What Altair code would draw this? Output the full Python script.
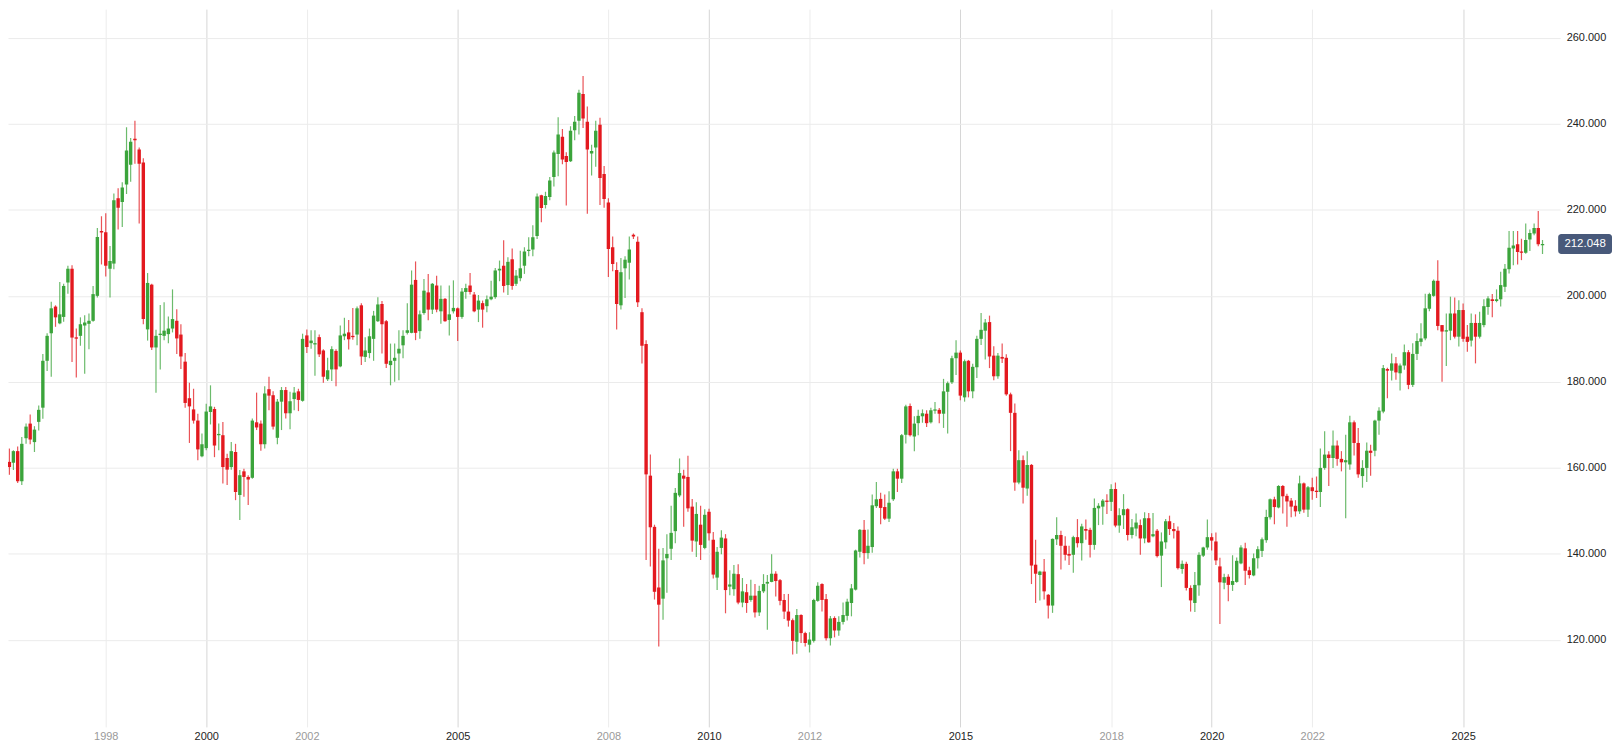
import altair as alt
import numpy as np
import pandas as pd

# Monthly candles, Jan 1996 .. Aug 2026
open_ = [
    160.2,161.4,161.2,163.9,156.9,166.9,170.3,166.0,170.7,174.0,184.9,191.3,
    197.5,193.6,195.1,203.1,206.3,190.3,190.7,193.1,193.5,194.2,200.0,215.1,
    214.8,206.3,207.5,222.7,221.8,225.9,230.5,236.5,234.0,231.0,192.2,202.6,
    188.0,190.9,190.7,191.1,192.4,194.2,191.0,184.7,176.2,173.6,171.0,162.7,
    164.6,173.0,173.7,167.6,167.6,162.3,160.2,163.7,153.7,159.2,157.9,157.7,
    170.6,170.3,165.5,178.3,176.9,167.0,175.4,178.1,172.7,176.0,177.8,175.6,
    190.8,189.0,188.7,190.4,187.3,180.6,182.9,187.2,183.6,190.6,191.5,190.7,
    191.0,197.8,185.8,186.7,190.0,194.1,198.1,194.1,183.9,184.9,186.6,188.5,
    191.4,191.4,203.7,191.8,196.0,200.8,196.8,202.4,196.4,199.3,194.4,196.4,
    197.1,195.1,200.9,202.4,200.3,196.8,198.3,197.6,199.2,199.7,205.9,207.0,
    202.5,208.5,202.8,204.1,207.0,210.4,210.8,213.9,223.4,221.1,223.0,227.6,
    233.0,237.0,232.5,231.3,238.5,240.7,246.9,240.5,233.1,234.5,239.8,228.3,
    221.7,211.3,206.0,197.8,206.4,207.7,214.2,212.6,196.2,188.8,158.2,146.3,
    132.2,129.6,139.0,141.2,145.3,153.6,158.2,157.9,151.0,142.9,146.8,141.4,
    149.8,143.3,134.5,141.4,143.6,132.4,131.8,135.3,128.7,131.1,129.3,130.3,
    126.4,131.3,133.1,133.5,135.4,133.9,129.3,126.6,124.6,119.6,125.8,121.6,
    118.9,119.8,129.1,133.0,129.5,120.4,125.1,122.2,124.2,125.6,128.6,131.7,
    140.5,145.6,140.2,141.6,151.1,152.8,150.9,148.2,152.7,159.2,157.5,167.7,
    174.4,167.3,170.4,172.0,172.6,170.6,173.4,173.5,172.6,177.7,179.9,185.5,
    186.8,176.4,184.9,177.8,183.4,190.0,191.9,193.9,186.1,181.3,185.8,185.6,
    177.1,172.8,156.6,161.8,155.2,160.7,137.5,135.1,135.9,130.5,128.0,143.4,
    144.4,141.9,140.0,139.8,143.9,142.5,145.8,145.6,142.1,150.6,151.0,152.4,
    152.1,155.1,146.6,149.0,150.4,144.4,145.9,146.7,143.6,148.3,144.1,145.4,
    139.6,142.7,147.6,145.8,145.4,136.5,137.7,132.1,128.6,132.7,139.6,141.5,
    143.9,142.9,137.1,133.3,134.7,132.8,133.5,137.8,141.3,136.2,135.0,139.0,
    140.7,143.2,148.5,152.7,150.8,155.8,153.5,152.4,151.2,149.9,156.4,150.3,
    155.5,154.7,154.4,160.0,163.1,162.3,165.2,162.1,161.3,160.8,170.6,165.8,
    158.1,160.0,164.0,164.0,171.0,173.1,183.0,182.6,184.3,182.0,183.8,186.9,
    179.3,186.5,189.3,190.1,197.0,200.0,203.5,193.2,191.7,191.9,195.9,190.5,
    196.7,190.5,189.6,193.7,190.5,193.2,197.4,199.2,198.8,199.2,202.1,206.2,
    211.0,212.0,210.3,210.0,213.1,214.5,215.8,211.8,
]
high = [
    164.0,164.5,164.1,165.0,167.2,170.3,172.4,169.7,174.5,186.5,191.3,198.6,
    197.8,203.2,202.8,207.0,207.1,192.4,195.0,195.5,195.9,202.3,215.8,218.5,
    219.2,211.6,223.8,225.0,226.4,239.2,236.7,240.7,234.5,232.0,205.3,202.8,
    192.1,197.9,198.5,195.2,201.5,196.9,193.4,186.7,179.8,178.4,172.6,168.0,
    174.9,179.2,174.2,170.3,170.7,163.3,166.0,165.6,159.5,159.8,158.3,171.5,
    177.5,171.0,179.0,181.2,177.8,176.0,178.8,178.8,177.7,178.8,178.4,191.2,
    192.2,192.0,192.0,191.0,187.6,185.6,188.3,187.6,193.1,194.9,194.4,197.2,
    197.5,198.3,190.4,192.4,196.5,199.7,198.8,194.4,188.9,188.9,192.0,192.0,
    198.3,205.9,208.0,196.6,203.9,205.1,203.0,204.7,202.4,199.5,202.4,203.6,
    197.3,201.8,202.8,205.3,200.9,200.2,198.9,200.1,203.5,206.5,208.2,212.9,
    209.0,211.0,206.0,210.5,211.3,213.6,216.4,223.8,223.5,224.2,227.6,233.8,
    241.5,238.8,233.4,239.4,241.8,247.9,251.1,244.0,235.1,240.7,241.4,230.2,
    222.7,213.8,207.8,208.8,209.2,213.8,214.5,213.8,197.1,189.7,163.1,146.8,
    141.2,141.4,144.6,151.2,155.3,162.2,159.6,162.8,152.8,152.0,151.2,150.4,
    150.5,145.1,141.6,145.5,144.6,136.2,137.4,137.6,134.4,133.0,134.0,133.0,
    132.6,135.3,135.1,139.9,136.0,134.2,130.7,130.7,125.0,127.2,126.0,121.9,
    121.8,129.6,133.4,133.2,130.7,125.6,125.5,125.5,128.7,129.6,133.0,141.0,
    145.8,147.9,145.7,153.8,156.7,154.2,153.8,154.6,159.8,159.8,167.9,174.7,
    175.0,172.0,173.5,173.6,173.4,174.0,175.3,173.9,180.7,180.1,186.1,189.7,
    187.3,185.2,185.1,184.2,190.7,196.0,194.6,195.4,188.3,186.7,188.9,186.4,
    177.5,175.0,164.1,162.9,163.9,160.9,143.3,136.1,138.8,130.7,143.6,148.5,
    145.4,144.1,141.9,144.2,148.1,147.0,148.0,146.1,152.9,151.8,152.8,153.9,
    156.2,156.6,150.6,153.9,150.6,148.1,149.4,148.0,149.7,149.5,149.5,145.8,
    145.0,148.1,148.9,147.2,146.4,138.5,138.2,132.7,135.8,140.4,141.7,148.0,
    144.8,145.0,139.1,135.4,135.3,139.7,139.2,142.0,142.6,137.0,140.1,141.8,
    143.8,150.3,152.9,153.3,156.0,156.0,154.0,153.0,152.5,158.2,156.6,155.8,
    157.7,158.0,164.5,168.5,163.9,168.7,166.4,163.9,167.7,172.1,171.0,169.3,
    161.8,165.9,165.4,171.2,174.1,183.9,183.3,186.6,185.8,184.3,188.7,187.4,
    189.0,191.3,193.6,200.5,200.7,203.8,208.3,193.2,195.9,199.8,199.6,199.0,
    198.2,193.2,195.9,195.7,196.3,199.2,199.9,200.4,201.5,205.6,207.4,215.1,
    215.1,215.1,213.3,216.8,215.4,216.8,219.7,213.0,
]
low = [
    158.5,158.4,159.5,156.5,156.0,165.6,165.5,163.7,168.7,171.4,182.5,181.2,
    192.8,193.4,194.0,200.5,184.6,181.0,188.4,181.9,187.6,194.0,199.6,207.3,
    204.5,199.6,206.2,215.4,216.0,223.7,226.5,230.7,216.8,193.4,189.6,187.4,
    177.5,182.9,189.7,189.0,191.5,186.5,183.0,174.0,165.8,170.3,161.8,162.5,
    164.1,170.1,162.5,164.1,156.4,156.0,159.6,152.5,147.9,153.3,151.4,157.5,
    168.8,164.0,164.5,173.4,168.9,165.5,168.8,171.5,169.0,173.4,173.2,175.4,
    186.7,187.7,181.4,185.8,179.8,180.2,180.2,179.0,183.4,189.7,187.5,189.8,
    188.5,183.9,184.6,185.5,184.9,193.9,186.6,183.2,179.2,180.0,180.4,185.5,
    191.0,191.3,189.7,190.0,195.6,194.3,195.8,196.2,193.5,194.0,190.8,195.9,
    189.5,194.7,199.3,200.3,196.2,193.9,192.6,196.2,199.0,199.3,203.4,200.8,
    200.2,201.4,202.3,203.4,205.1,209.2,209.2,213.2,217.1,220.3,222.2,225.4,
    227.8,230.6,221.0,231.1,236.2,237.5,239.0,219.1,228.0,230.0,221.1,220.5,
    204.4,205.7,192.2,196.8,199.5,203.8,213.2,197.4,184.3,138.6,137.1,129.4,
    118.5,124.7,131.0,138.6,142.5,153.2,146.3,149.8,140.5,139.3,138.6,141.1,
    143.1,134.3,131.6,139.9,126.2,130.4,130.3,128.3,127.6,126.3,128.9,125.2,
    125.6,130.9,122.4,133.4,130.1,128.1,124.9,123.1,116.6,116.8,119.3,118.5,
    117.1,119.4,128.9,126.6,119.9,118.7,120.6,121.0,123.6,124.5,125.5,131.5,
    139.2,137.6,138.9,140.3,150.7,146.9,147.9,147.4,152.3,154.4,156.5,165.7,
    167.3,163.9,167.6,170.5,169.5,170.3,172.6,170.4,169.3,168.0,179.5,181.6,
    175.7,175.4,176.4,176.2,180.9,188.6,185.2,183.2,180.4,180.7,184.4,176.8,
    163.9,154.7,156.2,151.7,153.5,133.0,128.6,129.2,129.4,125.0,126.3,142.1,
    136.4,138.5,137.4,135.6,141.5,138.5,143.3,139.2,141.0,146.7,146.8,149.3,
    150.0,146.2,144.9,145.8,143.1,143.6,144.1,139.8,142.5,142.6,143.9,139.2,
    132.3,141.2,144.4,143.6,136.4,135.4,131.5,126.6,126.5,130.3,139.3,141.0,
    140.8,137.4,123.7,131.8,129.0,131.4,133.3,137.6,132.8,134.3,134.8,136.6,
    139.3,142.6,148.0,146.9,150.6,149.4,146.3,148.5,148.7,149.3,149.6,148.6,
    152.6,153.0,150.9,159.6,155.8,160.0,160.5,159.2,148.3,159.6,162.9,157.7,
    155.4,156.7,158.2,162.7,167.7,172.7,176.2,180.3,180.5,178.0,182.8,178.3,
    178.8,185.1,188.3,189.7,196.4,199.8,192.0,180.0,183.7,189.7,190.1,188.2,
    189.3,187.0,188.2,184.3,190.1,192.7,195.6,195.0,198.5,197.5,200.9,205.2,
    207.1,207.3,208.3,209.8,210.4,214.1,211.5,209.7,
]
close = [
    163.3,160.2,163.9,156.9,165.6,169.6,166.6,168.9,173.5,184.9,190.7,197.1,
    195.0,195.7,202.3,206.3,190.3,190.1,193.4,193.8,194.2,200.4,213.7,214.7,
    207.0,208.1,222.2,220.5,225.2,233.8,235.8,236.2,230.7,194.6,203.0,188.0,
    190.7,191.2,191.9,192.4,194.6,190.1,185.9,175.1,174.3,171.0,164.3,165.5,
    173.1,174.3,165.2,167.9,160.2,159.6,163.9,154.4,158.3,157.9,157.3,171.0,
    169.4,165.5,177.3,176.8,169.6,175.4,178.1,172.7,175.5,177.5,175.8,190.0,
    188.1,189.6,189.0,186.4,181.2,182.7,187.6,182.9,190.8,191.2,189.9,190.4,
    197.1,185.9,187.3,190.6,195.4,198.0,193.4,184.2,184.9,185.6,187.7,190.7,
    192.0,202.6,191.4,195.7,201.2,196.8,202.8,196.8,199.3,194.1,195.7,197.2,
    195.1,201.0,201.8,200.9,196.4,198.9,196.8,199.2,199.8,205.9,206.3,202.3,
    207.9,202.3,204.7,206.4,210.3,210.7,213.6,223.1,220.4,223.2,226.8,233.3,
    237.5,231.7,231.1,238.4,240.5,247.2,241.2,234.0,233.7,238.4,227.4,222.5,
    210.9,207.4,198.1,205.5,208.4,210.8,213.8,198.5,188.4,158.5,146.2,131.2,
    128.2,138.5,140.0,144.9,154.2,158.8,157.5,150.6,143.1,149.3,142.1,149.1,
    144.8,135.2,140.5,143.8,131.6,132.9,135.4,128.7,131.3,128.6,130.3,126.4,
    131.4,133.0,133.5,135.4,133.7,129.1,126.6,124.5,119.8,125.8,121.6,119.3,
    120.1,129.3,132.6,129.3,120.4,125.0,122.2,124.2,125.8,128.9,132.0,140.8,
    145.6,140.2,141.9,151.3,152.7,150.7,148.2,151.9,159.2,157.5,167.6,174.3,
    167.6,170.3,172.1,172.7,170.4,173.4,173.5,172.6,177.8,179.7,185.5,186.8,
    176.8,184.8,177.8,183.5,190.0,192.1,193.8,185.9,181.3,186.1,185.4,177.1,
    172.8,156.6,161.8,155.4,160.7,137.3,135.4,135.9,131.3,128.0,143.5,144.4,
    141.9,139.8,139.6,143.9,142.5,146.4,145.4,142.1,150.7,151.2,152.4,152.1,
    155.1,146.6,149.0,150.4,144.4,146.2,147.3,143.6,148.3,142.7,144.6,139.5,
    142.9,147.6,145.8,145.3,136.7,137.7,132.1,129.2,132.8,139.8,141.5,143.9,
    143.1,138.5,133.4,134.6,132.8,133.7,138.4,141.5,136.1,135.1,139.0,141.1,
    143.4,148.6,152.7,150.9,155.8,153.4,152.2,151.0,149.9,156.4,150.3,155.5,
    154.6,154.4,160.0,163.1,162.3,165.2,162.1,161.3,161.8,170.6,165.8,158.5,
    160.0,164.0,163.5,171.0,173.3,183.2,182.6,184.3,182.2,183.8,186.9,179.3,
    186.5,189.5,190.1,197.1,200.4,203.5,193.0,191.7,192.0,195.9,190.5,196.7,
    190.0,189.3,193.7,190.5,193.7,197.6,199.4,198.8,199.2,202.5,206.3,211.2,
    211.7,210.2,210.0,213.0,214.6,215.8,212.0,212.048,
]

tick_years = [1998, 2000, 2002, 2005, 2008, 2010, 2012, 2015, 2018, 2020, 2022, 2025]
y_ticks = [120, 140, 160, 180, 200, 220, 240, 260]
last_price = close[-1]

GREEN = "#3ba43b"
RED = "#e3191f"
LABEL_BG = "#48597a"

dates = pd.date_range("1996-01-01", periods=len(close), freq="MS").strftime("%Y-%m-%d")
df = pd.DataFrame({"date": dates, "open": open_, "high": high, "low": low, "close": close})
df["high"] = df[["high", "open", "close"]].max(axis=1)
df["low"] = df[["low", "open", "close"]].min(axis=1)
df["dir"] = np.where(df["close"] >= df["open"], "up", "down")
top = df[["open", "close"]].max(axis=1)
bot = df[["open", "close"]].min(axis=1)
thin = (top - bot) < 0.3
df["body_top"] = np.where(thin, (top + bot) / 2 + 0.15, top)
df["body_bot"] = np.where(thin, (top + bot) / 2 - 0.15, bot)

x_scale = alt.Scale(
    type="utc",
    domain=[alt.DateTime(year=1996, month=2, date=27, utc=True),
            alt.DateTime(year=2026, month=11, date=1, utc=True)],
)
y_scale = alt.Scale(domain=[99.79, 266.65], nice=False, zero=False)

major = "utcyear(datum.value) % 5 === 0"
x_axis = alt.Axis(
    values=[alt.DateTime(year=y, month=1, date=1, utc=True) for y in tick_years],
    format="%Y",
    title=None,
    grid=True,
    gridColor={"condition": {"test": major, "value": "#d6d6d6"}, "value": "#ececec"},
    labelColor={"condition": {"test": major, "value": "#1e1e1e"}, "value": "#9a9a9a"},
    ticks=False,
    domain=False,
    labelFontSize=11,
    labelPadding=4,
    labelFont="Liberation Sans",
)
y_axis = alt.Axis(
    orient="right",
    values=y_ticks,
    format=".3f",
    title=None,
    grid=True,
    gridColor="#ebebeb",
    ticks=False,
    domain=False,
    labelFontSize=11,
    labelPadding=6,
    labelColor="#222222",
    labelFont="Liberation Sans",
)

X = alt.X("date:T", scale=x_scale, axis=x_axis)
color = alt.Color("dir:N", scale=alt.Scale(domain=["up", "down"], range=[GREEN, RED]), legend=None)

base = alt.Chart(df)

wicks = base.mark_rule(clip=True, strokeWidth=1.2, opacity=0.75).encode(
    x=X,
    y=alt.Y("low:Q", scale=y_scale, axis=y_axis),
    y2="high:Q",
    color=color,
)
bodies = base.mark_bar(clip=True, size=3.4).encode(
    x=X,
    y=alt.Y("body_bot:Q", scale=y_scale, axis=y_axis),
    y2="body_top:Q",
    color=color,
)

last_df = pd.DataFrame({"price": [last_price]})
label_box = alt.Chart(last_df).transform_calculate(
    lo="datum.price - 2.3", hi="datum.price + 2.3"
).mark_rect(color=LABEL_BG, cornerRadius=3).encode(
    x=alt.value(1555),
    x2=alt.value(1609),
    y=alt.Y("lo:Q", scale=y_scale, axis=y_axis),
    y2="hi:Q",
)
label_text = alt.Chart(last_df).mark_text(
    color="white", fontSize=11.5, font="Liberation Sans", align="center", baseline="middle"
).encode(
    x=alt.value(1582),
    y=alt.Y("price:Q", scale=y_scale, axis=y_axis),
    text=alt.Text("price:Q", format=".3f"),
)

chart = alt.layer(wicks, bodies, label_box, label_text).properties(
    width=1557,
    height=720,
    padding={"left": 0, "top": 0, "right": 0, "bottom": 0},
    background="white",
).configure_view(strokeWidth=0)

chart.save("out.html", embed_options={"renderer": "svg", "actions": False})
